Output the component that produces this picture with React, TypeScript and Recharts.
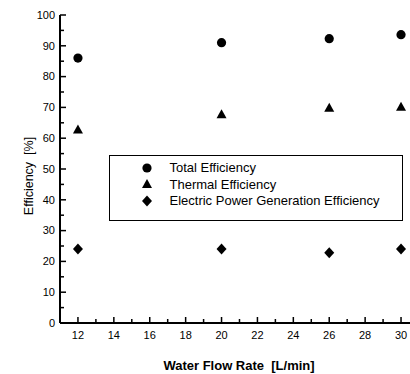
import React from "react";
import { ScatterChart, Scatter, XAxis, YAxis, Legend } from "recharts";

const flowRates = [12, 20, 26, 30];
const totalEff = [86, 91, 92.3, 93.6];
const thermalEff = [62.8, 67.8, 69.9, 70.2];
const electricEff = [24, 24, 22.8, 24];

const xTicks = [12, 13, 14, 15, 16, 17, 18, 19, 20, 21, 22, 23, 24, 25, 26, 27, 28, 29, 30];
const yTicks = [0, 5, 10, 15, 20, 25, 30, 35, 40, 45, 50, 55, 60, 65, 70, 75, 80, 85, 90, 95, 100];

const seriesNames = ["Total Efficiency", "Thermal Efficiency", "Electric Power Generation Efficiency"];

const FONT = "'Liberation Sans', Arial, Helvetica, sans-serif";

const toPoints = (vals: number[]) => flowRates.map((x, i) => ({ x, y: vals[i] }));

const CircleDot = (props: any) => {
  const { cx, cy } = props;
  return <circle cx={cx} cy={cy} r={4.6} fill="#000" />;
};

const TriangleDot = (props: any) => {
  const { cx, cy } = props;
  return <polygon points={`${cx},${cy - 5} ${cx + 5},${cy + 4} ${cx - 5},${cy + 4}`} fill="#000" />;
};

const DiamondDot = (props: any) => {
  const { cx, cy } = props;
  return <polygon points={`${cx},${cy - 5.5} ${cx + 5},${cy} ${cx},${cy + 5.5} ${cx - 5},${cy}`} fill="#000" />;
};

const BottomTick = (props: any) => {
  const { x, y, payload } = props;
  const major = payload.value % 2 === 0;
  return (
    <g>
      <rect x={x - 0.75} y={y - (major ? 6 : 4)} width={1.5} height={major ? 6 : 4} fill="#000" />
      {major && (
        <text x={x} y={y + 12} dy="0.35em" textAnchor="middle" fontSize={11} fontFamily={FONT} fill="#000">
          {payload.value}
        </text>
      )}
    </g>
  );
};

const TopTick = (props: any) => {
  const { x, y, payload } = props;
  const major = payload.value % 2 === 0;
  return <rect x={x - 0.75} y={y} width={1.5} height={major ? 6 : 4} fill="#000" />;
};

const LeftTick = (props: any) => {
  const { x, y, payload } = props;
  const major = payload.value % 10 === 0;
  return (
    <g>
      <rect x={x} y={y - 0.75} width={major ? 6 : 4} height={1.5} fill="#000" />
      {major && (
        <text x={x - 5} y={y} dy="0.35em" textAnchor="end" fontSize={11} fontFamily={FONT} fill="#000">
          {payload.value}
        </text>
      )}
    </g>
  );
};

const legendIcons = [
  <circle key="c" cx={6} cy={6} r={4.6} fill="#000" />,
  <polygon key="t" points="6,1 11,10 1,10" fill="#000" />,
  <polygon key="d" points="6,0.5 11,6 6,11.5 1,6" fill="#000" />,
];

const LegendBox = () => (
  <div
    style={{
      width: 294,
      height: 66,
      boxSizing: "border-box",
      border: "1.5px solid #000",
      background: "#fff",
      paddingTop: 4,
      fontFamily: FONT,
      fontSize: 13,
      color: "#000",
    }}
  >
    {seriesNames.map((name, i) => (
      <div key={name} style={{ display: "flex", alignItems: "center", height: 16.5 }}>
        <svg width={12} height={12} style={{ marginLeft: 31, marginRight: 17 }}>
          {legendIcons[i]}
        </svg>
        <span>{name}</span>
      </div>
    ))}
  </div>
);

export default function App() {
  return (
    <div style={{ position: "absolute", left: 0, top: 0, width: 410, height: 374, background: "#fff" }}>
      <ScatterChart width={410} height={374} margin={{ top: 15, right: 0, bottom: 0, left: 0 }}>
        <XAxis
          xAxisId="bottom"
          dataKey="x"
          type="number"
          orientation="bottom"
          domain={[11, 30.5]}
          allowDataOverflow
          ticks={xTicks}
          interval={0}
          height={51}
          tickSize={0}
          tickMargin={0}
          tickLine={false}
          tick={BottomTick}
          stroke="#000"
          strokeWidth={2}
        />
        <XAxis
          xAxisId="top"
          dataKey="x"
          type="number"
          orientation="top"
          domain={[11, 30.5]}
          allowDataOverflow
          ticks={xTicks}
          interval={0}
          height={0}
          tickSize={0}
          tickMargin={0}
          tickLine={false}
          tick={TopTick}
          stroke="#000"
          strokeWidth={2}
        />
        <YAxis
          dataKey="y"
          type="number"
          domain={[0, 100]}
          allowDataOverflow
          ticks={yTicks}
          interval={0}
          width={60}
          tickSize={0}
          tickMargin={0}
          tickLine={false}
          tick={LeftTick}
          stroke="#000"
          strokeWidth={2}
        />
        <Legend
          layout="vertical"
          align="center"
          verticalAlign="middle"
          content={<LegendBox />}
          wrapperStyle={{ position: "absolute", left: 108.5, top: 154.5, width: 294 }}
        />
        <Scatter xAxisId="bottom" name={seriesNames[0]} data={toPoints(totalEff)} shape={<CircleDot />} isAnimationActive={false} />
        <Scatter xAxisId="bottom" name={seriesNames[1]} data={toPoints(thermalEff)} shape={<TriangleDot />} isAnimationActive={false} />
        <Scatter xAxisId="bottom" name={seriesNames[2]} data={toPoints(electricEff)} shape={<DiamondDot />} isAnimationActive={false} />
      </ScatterChart>
      <div
        style={{
          position: "absolute",
          left: 29,
          top: 176,
          transform: "translate(-50%, -50%) rotate(-90deg)",
          fontFamily: FONT,
          fontSize: 12.5,
          whiteSpace: "pre",
          color: "#000",
        }}
      >
        {"Efficiency  [%]"}
      </div>
      <div
        style={{
          position: "absolute",
          left: 239,
          top: 365,
          transform: "translate(-50%, -50%)",
          fontFamily: FONT,
          fontSize: 13,
          fontWeight: "bold",
          whiteSpace: "pre",
          color: "#000",
        }}
      >
        {"Water Flow Rate  [L/min]"}
      </div>
    </div>
  );
}
